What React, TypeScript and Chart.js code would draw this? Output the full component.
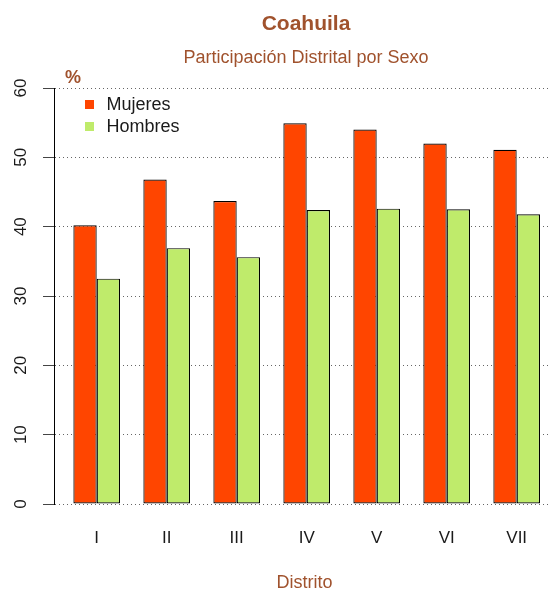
import React, { useEffect, useRef } from "react";
import { Chart, registerables } from "chart.js";

Chart.register(...registerables);

const categories = ["I", "II", "III", "IV", "V", "VI", "VII"];
const mujeres = [40.2, 46.8, 43.7, 54.9, 54.0, 52.0, 51.1];
const hombres = [32.5, 36.9, 35.6, 42.4, 42.6, 42.5, 41.8];
const seriesNames = ["Mujeres", "Hombres"];
const seriesColors = ["#FF4500", "#BFEB6B"];
const titleText = "Coahuila";
const subtitleText = "Participación Distrital por Sexo";
const xTitle = "Distrito";
const yUnit = "%";
const yMin = 0;
const yMax = 60;
const yStep = 10;

const BROWN = "#A0522D";
const FONT = "'Liberation Sans', Arial, Helvetica, sans-serif";

const textPlugin = {
  id: "rtext",
  afterDraw(chart: any) {
    const ctx = chart.ctx as CanvasRenderingContext2D;
    const yScale = chart.scales.y;
    ctx.save();
    // titles
    ctx.fillStyle = BROWN;
    ctx.textAlign = "center";
    ctx.textBaseline = "alphabetic";
    ctx.font = `bold 21px ${FONT}`;
    ctx.fillText(titleText, 306, 30);
    ctx.font = `18px ${FONT}`;
    ctx.fillText(subtitleText, 306, 63);
    // unit label
    ctx.font = `bold 18px ${FONT}`;
    ctx.fillText(yUnit, 73, 83);
    // x axis title
    ctx.font = `18px ${FONT}`;
    ctx.fillText(xTitle, 304.5, 588);
    // y tick labels rotated
    ctx.fillStyle = "#1a1a1a";
    ctx.font = `17px ${FONT}`;
    ctx.textBaseline = "middle";
    for (const t of yScale.ticks) {
      const py = yScale.getPixelForValue(t.value);
      ctx.save();
      ctx.translate(21, py);
      ctx.rotate(-Math.PI / 2);
      ctx.fillText(String(t.value), 0, 0);
      ctx.restore();
    }
    // legend
    ctx.textAlign = "left";
    ctx.font = `18px ${FONT}`;
    chart.data.datasets.forEach((ds: any, i: number) => {
      const cy = 104.5 + i * 22;
      ctx.fillStyle = ds.backgroundColor;
      ctx.fillRect(85, cy - 4.5, 9, 9);
      ctx.fillStyle = "#1a1a1a";
      ctx.fillText(ds.label, 106.5, cy + 1);
    });
    ctx.restore();
  },
};

export default function App() {
  const ref = useRef<HTMLCanvasElement>(null);
  useEffect(() => {
    if (!ref.current) return;
    const chart = new Chart(ref.current, {
      type: "bar",
      data: {
        datasets: [mujeres, hombres].map((vals, s) => ({
          label: seriesNames[s],
          data: vals.map((v, i) => ({ x: i, y: v })),
          backgroundColor: seriesColors[s],
          borderColor: "#000000",
          borderWidth: 1.2,
          borderSkipped: false,
          categoryPercentage: 2 / 3,
          barPercentage: 1,
        })),
      },
      options: {
        responsive: false,
        animation: false,
        layout: { padding: { top: 88, left: 0, right: 0, bottom: 0 }, autoPadding: false },
        plugins: {
          legend: { display: false },
          title: { display: false },
          tooltip: { enabled: false },
        },
        scales: {
          x: {
            type: "linear",
            offset: false,
            min: -0.61,
            max: 6.476,
            grid: { display: false, offset: false },
            border: { display: false },
            afterBuildTicks: (scale: any) => {
              scale.ticks = categories.map((_, i) => ({ value: i }));
            },
            afterFit: (scale: any) => {
              scale.height = 87;
            },
            ticks: {
              autoSkip: false,
              maxRotation: 0,
              minRotation: 0,
              padding: 16,
              color: "#1a1a1a",
              font: { family: FONT, size: 17 },
              callback: (v: any) => categories[Math.round(Number(v))] ?? "",
            },
          },
          y: {
            min: yMin,
            max: yMax,
            ticks: { stepSize: yStep, display: false },
            afterFit: (scale: any) => {
              scale.width = 54;
            },
            grid: {
              color: "#666666",
              lineWidth: 1,
              drawTicks: true,
              tickLength: 11,
              tickColor: "#444444",
              tickWidth: 1,
              tickBorderDash: [],
            },
            border: { display: true, color: "#000000", width: 1, dash: [1, 3] },
          },
        },
      },
      plugins: [textPlugin],
    });
    return () => chart.destroy();
  }, []);
  return (
    <div style={{ position: "absolute", left: 0, top: 0, width: 550, height: 591, background: "#fff" }}>
      <canvas ref={ref} width={550} height={591} style={{ display: "block" }} />
    </div>
  );
}
